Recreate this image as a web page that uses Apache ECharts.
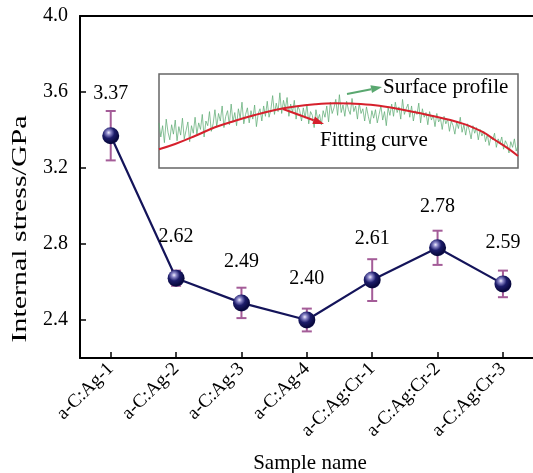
<!DOCTYPE html>
<html><head><meta charset="utf-8">
<script src="https://cdn.jsdelivr.net/npm/echarts@6/dist/echarts.min.js"></script>
<style>html,body{margin:0;padding:0;background:#fff}#c{width:533px;height:473px}</style>
</head><body><div id="c"></div>
<script>
const categories = ['a-C:Ag-1','a-C:Ag-2','a-C:Ag-3','a-C:Ag-4','a-C:Ag:Cr-1','a-C:Ag:Cr-2','a-C:Ag:Cr-3'];
const stressValues = [3.37, 2.62, 2.49, 2.40, 2.61, 2.78, 2.59];
const stressErrors = [0.13, 0.04, 0.08, 0.06, 0.11, 0.09, 0.07];
const yTickValues = [2.4, 2.8, 3.2, 3.6, 4.0];
const xTickValues = [1, 2, 3, 4, 5, 6, 7];

// inset: surface profile (hand-read, arbitrary height units 0-100)
const profileValues = [
  48,33,45,27,52,38,30,46,36,51,
  29,44,35,53,31,40,49,28,45,37,
  54,36,48,41,57,33,50,45,60,39,
  47,62,44,58,50,66,43,55,61,46,
  68,49,59,45,63,53,70,47,57,64,
  48,61,52,67,44,58,63,50,66,55,
  71,54,62,77,57,69,60,80,58,72,
  63,75,55,68,59,72,52,66,61,50,
  64,53,68,47,60,56,43,62,51,57,
  46,61,54,66,49,70,58,64,73,56,
  78,59,67,55,71,62,57,74,60,66,
  52,69,58,63,50,65,55,47,61,53,
  62,48,57,66,51,60,45,64,56,68,
  55,70,59,65,52,73,57,63,68,54,
  66,50,61,57,69,48,63,54,59,46,
  60,51,56,44,58,49,53,41,55,47,
  52,39,50,45,36,49,42,54,38,46,
  35,47,40,31,45,37,43,30,41,34,
  39,28,36,24,33,30,37,22,31,26,
  33,20,29,25,16,28,22,31,18,24
];
// inset: fitting curve (u position 0-100, height units)
const fitX = [0, 4.5, 10, 15.6, 21.2, 26.7, 32.3, 37.9, 43.5, 49, 54.6, 60.2, 65.7, 74.9, 84.4, 90, 93.6, 97.2, 100];
const fitY = [19.9, 25.5, 34, 43.3, 50.3, 56.4, 61.7, 65.5, 67.8, 68.8, 68.4, 66.8, 63.5, 56.4, 47.5, 38.6, 29.8, 20.9, 12.8];

const FONT = 'Liberation Serif';

const lineData = stressValues.map((v, i) => [xTickValues[i], v]);
const errData = stressValues.map((v, i) => [xTickValues[i], v - stressErrors[i], v + stressErrors[i]]);
const fitData = fitX.map((x, i) => [x, fitY[i]]);
const profileCats = profileValues.map((v, i) => i);

function arrow(x1, y1, x2, y2, color) {
  const ang = Math.atan2(y2 - y1, x2 - x1);
  const L = 11, W = 4;
  const bx = x2 - L * Math.cos(ang), by = y2 - L * Math.sin(ang);
  const px = -Math.sin(ang) * W, py = Math.cos(ang) * W;
  return [
    { type: 'line', shape: { x1: x1, y1: y1, x2: bx, y2: by }, style: { stroke: color, lineWidth: 2 }, z: 50 },
    { type: 'polygon', shape: { points: [[x2, y2], [bx + px, by + py], [bx - px, by - py]] }, style: { fill: color }, z: 50 }
  ];
}

const chart = echarts.init(document.getElementById('c'), null, { renderer: 'canvas' });
chart.setOption({
  animation: false,
  backgroundColor: '#fff',
  textStyle: { fontFamily: FONT },
  grid: [
    { left: 80, right: 0, top: 16, bottom: 115, outerBoundsMode: 'none', containLabel: false },
    { left: 159, top: 74, width: 359, height: 94, show: true, borderColor: '#666', borderWidth: 1.5, backgroundColor: '#fff', outerBoundsMode: 'none', z: 5 }
  ],
  xAxis: [
    {
      type: 'value', gridIndex: 0, min: 0.53, max: 7.46, position: 'bottom',
      axisLine: { show: true, onZero: false, lineStyle: { color: '#000', width: 2 } },
      axisTick: { show: true, inside: true, length: 6, customValues: xTickValues, lineStyle: { color: '#000', width: 1.5 } },
      axisLabel: {
        show: true, customValues: xTickValues, rotate: 45, margin: 8,
        fontFamily: FONT, fontSize: 19, color: '#000',
        formatter: v => categories[Math.round(v) - 1] || ''
      },
      splitLine: { show: false }
    },
    {
      type: 'value', gridIndex: 0, min: 0.53, max: 7.46, position: 'top',
      axisLine: { show: true, onZero: false, lineStyle: { color: '#000', width: 2 } },
      axisTick: { show: false }, axisLabel: { show: false }, splitLine: { show: false }
    },
    { type: 'category', gridIndex: 1, data: profileCats, boundaryGap: false, show: false },
    { type: 'value', gridIndex: 1, min: 0, max: 100, show: false }
  ],
  yAxis: [
    {
      type: 'value', gridIndex: 0, min: 2.2, max: 4.0,
      axisLine: { show: true, onZero: false, lineStyle: { color: '#000', width: 2 } },
      axisTick: { show: true, inside: true, length: 6, customValues: yTickValues, lineStyle: { color: '#000', width: 1.5 } },
      axisLabel: {
        show: true, customValues: yTickValues, margin: 12, padding: [6, 0, 0, 0],
        fontFamily: FONT, fontSize: 20, color: '#000',
        formatter: v => v.toFixed(1)
      },
      splitLine: { show: false }
    },
    { type: 'value', gridIndex: 1, min: 0, max: 100, show: false }
  ],
  series: [
    {
      type: 'custom', xAxisIndex: 0, yAxisIndex: 0, z: 2,
      data: errData,
      renderItem: function (params, api) {
        const x = api.value(0);
        const lo = api.coord([x, api.value(1)]);
        const hi = api.coord([x, api.value(2)]);
        const hw = 5;
        const st = { stroke: '#a45c98', lineWidth: 2 };
        return {
          type: 'group',
          children: [
            { type: 'line', shape: { x1: lo[0], y1: lo[1], x2: hi[0], y2: hi[1] }, style: st },
            { type: 'line', shape: { x1: lo[0] - hw, y1: lo[1], x2: lo[0] + hw, y2: lo[1] }, style: st },
            { type: 'line', shape: { x1: hi[0] - hw, y1: hi[1], x2: hi[0] + hw, y2: hi[1] }, style: st }
          ]
        };
      }
    },
    {
      type: 'line', xAxisIndex: 0, yAxisIndex: 0, z: 3,
      data: lineData,
      symbol: 'circle', symbolSize: 17,
      lineStyle: { color: '#14145a', width: 2.2 },
      itemStyle: {
        color: {
          type: 'radial', x: 0.38, y: 0.32, r: 0.75,
          colorStops: [
            { offset: 0, color: '#f2f0ff' },
            { offset: 0.18, color: '#8a86c8' },
            { offset: 0.45, color: '#1c1c6a' },
            { offset: 0.85, color: '#07073a' },
            { offset: 1, color: '#2a2a70' }
          ]
        },
        borderWidth: 0
      },
      label: {
        show: true, position: 'top', distance: 23,
        fontFamily: FONT, fontSize: 20, color: '#000',
        formatter: p => p.value[1].toFixed(2)
      }
    },
    {
      type: 'line', xAxisIndex: 2, yAxisIndex: 1, z: 10,
      data: profileValues, symbol: 'none', silent: true,
      lineStyle: { color: 'rgba(96,172,118,0.75)', width: 1 }
    },
    {
      type: 'line', xAxisIndex: 3, yAxisIndex: 1, z: 11,
      data: fitData, symbol: 'none', smooth: 0.4, silent: true,
      lineStyle: { color: '#d6202c', width: 2 }
    }
  ],
  graphic: [
    {
      type: 'text', x: 20, y: 229, rotation: Math.PI / 2, scaleX: 1.36,
      style: { text: 'Internal stress/GPa', fontFamily: FONT, fontSize: 22, fill: '#000', align: 'center', verticalAlign: 'middle' }
    },
    {
      type: 'text', x: 310, y: 463,
      style: { text: 'Sample name', fontFamily: FONT, fontSize: 21, fill: '#000', align: 'center', verticalAlign: 'middle' }
    },
    {
      type: 'text', x: 383, y: 87, z: 50,
      style: { text: 'Surface profile', fontFamily: FONT, fontSize: 21, fill: '#000', align: 'left', verticalAlign: 'middle' }
    },
    {
      type: 'text', x: 320, y: 140, z: 50,
      style: { text: 'Fitting curve', fontFamily: FONT, fontSize: 21, fill: '#000', align: 'left', verticalAlign: 'middle' }
    }
  ].concat(arrow(347, 94, 382, 87, '#5aa870')).concat(arrow(283, 109, 324, 124, '#d6202c'))
});
</script>
</body></html>
